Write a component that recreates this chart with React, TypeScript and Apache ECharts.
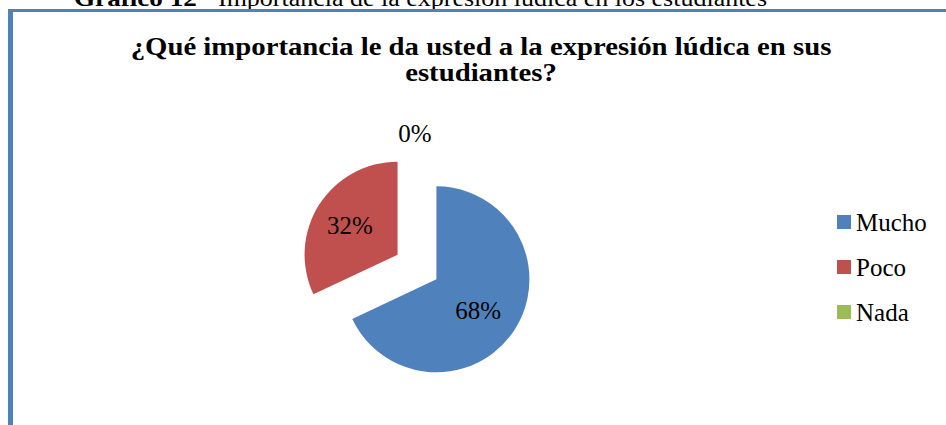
import React, { useEffect, useRef } from "react";
import * as echarts from "echarts";

const categories = ["Mucho", "Poco", "Nada"];
const values = [68, 32, 0];
const colors = ["#4F81BD", "#C0504D", "#9BBB59"];
// categories whose label Excel puts outside the pie
const outsideLabels = ["Nada"];

const captionBold = "Gráfico 12";
const captionText = "Importancia de la expresión lúdica en los estudiantes";
const titleLines = [
  "¿Qué importancia le da usted a la expresión lúdica en sus",
  "estudiantes?",
];

const FONT = "'Liberation Serif', 'Times New Roman', serif";

// label formatters / paddings (style only) to mimic Excel label placement
const labelFormat: Record<string, string> = {
  Mucho: "{g10| }\n{d}%",
  Poco: "{d}%\n{g6| }",
  Nada: "{d}%",
};
const labelPadding: Record<string, number[]> = {
  Mucho: [0, 0, 0, 0],
  Poco: [0, 12, 0, 0],
  Nada: [0, 4, 0, 0],
};

export default function App() {
  const ref = useRef<HTMLDivElement>(null);

  useEffect(() => {
    if (!ref.current) return;
    const chart = echarts.init(ref.current, undefined, { renderer: "svg" });
    const border = "#4F81BD";
    const baseLabel = {
      position: "inside",
      fontFamily: FONT,
      fontSize: 25,
      lineHeight: 25,
      color: "#000",
      rich: {
        g6: { lineHeight: 6, fontSize: 6 },
        g10: { lineHeight: 10, fontSize: 10 },
      },
    };
    const commonPie = {
      type: "pie",
      center: [417, 267],
      startAngle: 90,
      clockwise: true,
      selectedMode: "multiple",
      selectedOffset: 23,
      percentPrecision: 0,
      avoidLabelOverlap: false,
      emphasis: { disabled: true },
      labelLine: { show: false },
      tooltip: { show: false },
    };
    chart.setOption({
      animation: false,
      backgroundColor: "#ffffff",
      color: colors,
      legend: {
        data: categories,
        orient: "vertical",
        left: 837,
        top: 209.5,
        padding: 0,
        itemWidth: 14,
        itemHeight: 14,
        itemGap: 20,
        icon: "rect",
        selectedMode: false,
        textStyle: { fontFamily: FONT, fontSize: 25, color: "#000" },
      },
      graphic: [
        {
          type: "text",
          x: 74,
          y: -1.5,
          scaleX: 1.18,
          style: {
            text: captionBold,
            font: `bold 23px ${FONT}`,
            fill: "#000",
            align: "left",
            verticalAlign: "middle",
          },
          z: 1,
        },
        {
          type: "text",
          x: 218,
          y: -1.5,
          scaleX: 1.13,
          style: {
            text: captionText,
            font: `23px ${FONT}`,
            fill: "#000",
            align: "left",
            verticalAlign: "middle",
          },
          z: 1,
        },
        {
          type: "text",
          x: 481,
          y: 46.5,
          scaleX: 1.15,
          style: {
            text: titleLines[0],
            font: `bold 25px ${FONT}`,
            fill: "#000",
            align: "center",
            verticalAlign: "middle",
          },
        },
        {
          type: "text",
          x: 481,
          y: 72.5,
          scaleX: 1.15,
          style: {
            text: titleLines[1],
            font: `bold 25px ${FONT}`,
            fill: "#000",
            align: "center",
            verticalAlign: "middle",
          },
        },
        {
          type: "rect",
          shape: { x: 8, y: 9, width: 945, height: 3 },
          style: { fill: border },
          z: 10,
        },
        {
          type: "rect",
          shape: { x: 8, y: 9, width: 5, height: 420 },
          style: { fill: border },
          z: 10,
        },
      ],
      series: [
        {
          ...commonPie,
          name: "main",
          radius: 93,
          itemStyle: { borderWidth: 0 },
          label: { ...baseLabel, show: true },
          data: categories.map((name, i) => ({
            name,
            value: values[i],
            selected: true,
            label: {
              show: !outsideLabels.includes(name),
              formatter: labelFormat[name],
              padding: labelPadding[name],
            },
          })),
        },
        {
          // invisible ring carrying the outside-end labels
          ...commonPie,
          name: "outsideLabels",
          radius: [93, 123],
          silent: true,
          itemStyle: { color: "rgba(0,0,0,0)", borderWidth: 0 },
          label: { ...baseLabel, show: true },
          data: categories.map((name, i) => ({
            name,
            value: values[i],
            selected: true,
            label: {
              show: outsideLabels.includes(name),
              formatter: labelFormat[name],
              padding: labelPadding[name],
            },
          })),
        },
      ],
    });
    return () => chart.dispose();
  }, []);

  return (
    <div
      ref={ref}
      style={{ position: "absolute", left: 0, top: 0, width: 946, height: 425 }}
    />
  );
}
